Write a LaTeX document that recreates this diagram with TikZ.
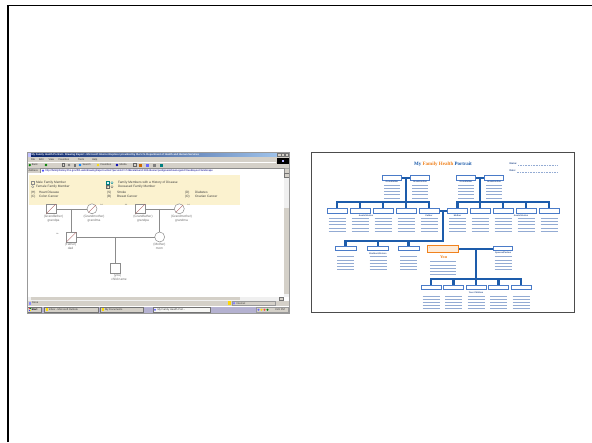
\documentclass[tikz,border=0pt]{standalone}
\usepackage{fontspec}
\setmainfont{Liberation Sans}
\newfontfamily\serifbold{Liberation Serif}
\usetikzlibrary{calc}
\definecolor{winblue}{HTML}{0A246A}
\definecolor{winlight}{HTML}{A6CAF0}
\definecolor{wingrey}{HTML}{D4D0C8}
\definecolor{legendy}{HTML}{FBF2CF}
\definecolor{treeblue}{HTML}{1D5CAB}
\definecolor{boxblue}{HTML}{4A7BC8}
\definecolor{lineblue}{HTML}{93ABD3}
\definecolor{labelblue}{HTML}{2B4F8E}
\definecolor{orng}{HTML}{F0821E}
\definecolor{youfill}{HTML}{FDEBD8}
\definecolor{pedgrey}{HTML}{8C8C8C}
\definecolor{pedtext}{HTML}{6E6E6E}
\newcommand\tinyf{\fontsize{2.6}{3}\selectfont}
\newcommand\smallf{\fontsize{3.2}{3.6}\selectfont}
\newcommand\formlines[4]{%
  \foreach \k in {1,...,#4}{\draw[formline] ({#1-#3/2},{#2+(\k-1)*3.1}) -- ++(#3,0);}}
\pgfdeclarelayer{bg}
\pgfsetlayers{bg,main}
\begin{document}
\begin{tikzpicture}[x=1pt,y=-1pt,
  every node/.style={inner sep=0pt, outer sep=0pt},
  tx/.style={font=\smallf, text=pedtext},
  lg/.style={font=\smallf, text=black!75, anchor=west},
  wt/.style={font=\tinyf, text=black!80, anchor=west},
  pedsq/.style={draw=pedgrey, line width=0.5pt, fill=white, minimum size=9.5pt},
  pedci/.style={draw=pedgrey, line width=0.5pt, fill=white, circle, minimum size=10pt},
  pedline/.style={draw=pedgrey, line width=0.5pt},
  slash/.style={draw=pedgrey!70!red, line width=0.4pt},
  fbox/.style={draw=boxblue, line width=0.55pt, fill=white, minimum width=20pt, minimum height=4.5pt},
  conn/.style={draw=treeblue, line width=2.2pt, line cap=rect},
  formline/.style={draw=lineblue, line width=0.7pt},
  tlabel/.style={font=\fontsize{2.2}{2.5}\selectfont\bfseries, text=labelblue},
  wbtn/.style={draw=black!55, fill=wingrey, line width=0.3pt},
]
\begin{pgfonlayer}{bg}
\fill[white] (0,0) rectangle (592,442);
\fill[white] (311.5,152.5) rectangle (574,312.5);
\end{pgfonlayer}
\useasboundingbox (0,0) rectangle (592,442);
% slide frame
\draw[line width=2.5pt] (8,442) -- (8,4.6);
\draw[line width=1.8pt] (6.8,5.5) -- (592,5.5);

% ================= left screenshot =================
\fill[white] (27,152.5) rectangle (289,313);
\shade[left color=winblue, right color=winlight] (27,152.5) rectangle (289,157.3);
\fill[white!75!blue] (28,153.3) rectangle (30.6,156.5);
\node[font=\tinyf\bfseries, text=white, anchor=west] (ttl) at (31.5,154.9)
  {My Family Health Portrait - Drawing Report - Microsoft Internet Explorer provided by the U.S. Department of Health and Human Services};
\foreach \x in {277.3,281.1,284.9} \draw[wbtn] (\x,153.2) rectangle ++(3.5,3.3);
\fill[wingrey] (27,157.3) rectangle (289,173.3);
\draw[white, line width=0.3pt] (27,162) -- (276,162);
\draw[black!35, line width=0.3pt] (27,167.8) -- (289,167.8);
\node[wt] at (31,159.7) {File};
\node[wt] at (39,159.7) {Edit};
\node[wt] at (48.5,159.7) {View};
\node[wt] at (58.5,159.7) {Favorites};
\node[wt] at (78,159.7) {Tools};
\node[wt] at (92,159.7) {Help};
\fill[black] (277,157.8) rectangle (288.5,163.6);
\fill[white!70!blue] (281.5,159.5) rectangle ++(2.5,2.4);
% toolbar
\fill[green!50!black] (29.8,165) circle (1.3);
\node[wt] at (31.8,165) {Back};
\fill[green!50!black] (46,165) circle (1.3);
\draw[black!60, line width=0.3pt] (62,163.3) rectangle ++(2.6,3.2);
\fill[gray] (69,165) circle (1.3);
\fill[black!55] (73.5,163.5) rectangle ++(2.8,3);
\fill[blue!50!cyan] (80,165) circle (1.3);
\node[wt] at (82.5,165) {Search};
\fill[yellow!80!orange] (98,165) circle (1.3);
\node[wt] at (100.5,165) {Favorites};
\fill[blue!70!black] (117,165) circle (1.3);
\node[wt] at (119.5,165) {Media};
\draw[black!60, line width=0.3pt] (133,163.5) rectangle ++(3,3);
\fill[orange!80!black] (139,163.5) rectangle ++(2.5,3);
\fill[blue!60] (146,163.5) rectangle ++(3,3);
\fill[black!50] (153,163.5) rectangle ++(3,3);
\fill[teal] (160,163.5) rectangle ++(3,3);
% address bar
\node[wt] at (28.5,170.5) {Address};
\fill[white] (40.5,168.5) rectangle (284.5,172.8);
\draw[black!45, line width=0.3pt] (40.5,168.5) rectangle (284.5,172.8);
\fill[blue!70] (43,170.6) circle (1.2);
\node[font=\tinyf, text=blue!55!black, anchor=west] (url) at (45.5,170.6)
  {http://familyhistory.hhs.gov/fhh-web/drawingReport.action?personId=1749\&relativeId=8324\&view=pedigree\&showLegend=true\&layout=landscape};
% content area
\fill[white] (27,173.3) rectangle (283.5,297);
\fill[black!6] (283.5,173.3) rectangle (289,297);
\fill[wingrey] (283.8,208) rectangle (288.7,294);
\draw[wbtn] (283.8,173.5) rectangle (288.7,177);
\fill[legendy] (28.5,174.5) rectangle (240,204.5);
% legend
\draw[pedgrey, line width=0.3pt] (31.5,181.5) rectangle ++(2.4,2.4);
\node[lg] at (36,182.7) {Male Family Member};
\draw[pedgrey, line width=0.3pt] (32.7,186.7) circle (1.2);
\node[lg] at (36,186.7) {Female Family Member};
\draw[teal, line width=0.3pt, fill=cyan!15] (106.5,181.5) rectangle ++(2.4,2.4);
\draw[teal, line width=0.3pt, fill=cyan!15] (112,182.7) circle (1.2);
\node[lg] at (118,182.7) {Family Members with a History of Disease};
\draw[black!60, line width=0.3pt] (106.5,185.5) rectangle ++(2.4,2.4);
\draw[black!60, line width=0.3pt] (106.5,187.9) -- ++(2.4,-2.4);
\draw[black!60, line width=0.3pt] (112,186.7) circle (1.2);
\node[lg] at (118,186.7) {Deceased Family Member};
\node[lg] at (31,192.7) {(H)}; \node[lg] at (39,192.7) {Heart Disease};
\node[lg] at (31,196.7) {(C)}; \node[lg] at (39,196.7) {Colon Cancer};
\node[lg] at (107,192.7) {(S)}; \node[lg] at (117,192.7) {Stroke};
\node[lg] at (107,196.7) {(B)}; \node[lg] at (117,196.7) {Breast Cancer};
\node[lg] at (185,192.7) {(D)}; \node[lg] at (195,192.7) {Diabetes};
\node[lg] at (185,196.7) {(O)}; \node[lg] at (195,196.7) {Ovarian Cancer};
% pedigree
\node[pedsq] (gf1) at (51,208.8) {};
\node[pedci] (gm1) at (92,208.8) {};
\node[pedsq] (gf2) at (140.3,208.8) {};
\node[pedci] (gm2) at (179.3,208.8) {};
\draw[slash] (gf1.south west) -- (gf1.north east);
\draw[slash] (gm1.south west) -- (gm1.north east);
\draw[slash] (gf2.south west) -- (gf2.north east);
\draw[slash] (gm2.south west) -- (gm2.north east);
\draw[pedline] (gf1) -- (gm1);
\draw[pedline] (gf2) -- (gm2);
\coordinate (m1) at ($(gf1.east)!0.5!(gm1.west)$);
\coordinate (m2) at ($(gf2.east)!0.5!(gm2.west)$);
\node[pedsq] (fa) at (m1 |- 0,237) {};
\node[pedci] (mo) at (m2 |- 0,237) {};
\draw[slash] (fa.south west) -- (fa.north east);
\draw[pedline] (m1) -- (fa.north);
\draw[pedline] (m2) -- (mo.north);
\draw[pedline] (fa) -- (mo);
\coordinate (m3) at ($(fa.east)!0.5!(mo.west)$);
\node[pedsq] (me) at (m3 |- 0,268) {};
\draw[pedline] (m3) -- (me.north);
\node[tx] at (101.5,205.5) {**};
\node[tx] at (126,205.5) {**};
\node[tx] at (188.5,205.5) {**};
\node[tx] at (57.5,234.5) {**};
\node[tx] at (53.5,216.5) {(Grandfather)}; \node[tx] at (53.5,220.3) {grandpa};
\node[tx] at (94,216.5) {(Grandmother)}; \node[tx] at (94,220.3) {grandma};
\node[tx] at (143,216.5) {(Grandfather)}; \node[tx] at (143,220.3) {grandpa};
\node[tx] at (181.5,216.5) {(Grandmother)}; \node[tx] at (181.5,220.3) {grandma};
\node[tx] at (70.5,244.5) {(Father)}; \node[tx] at (70.5,248.2) {dad};
\node[tx] at (159.5,244.5) {(Mother)}; \node[tx] at (159.5,248.2) {mom};
\node[tx] at (117.5,276) {(you)}; \node[tx] at (119,279.7) {child name};
% bottom bars
\fill[black!6] (27,297) rectangle (283.5,300.5);
\fill[wingrey] (30.5,297.3) rectangle (240,300.2);
\draw[wbtn] (279.5,297.2) rectangle (283.3,300.3);
\fill[wingrey] (27,300.5) rectangle (289,306);
\fill[blue!45] (28.5,301.6) rectangle ++(2.4,2.9);
\node[wt] at (32,303.1) {Done};
\fill[yellow!75!orange] (228.3,301.4) rectangle ++(2.6,3.1);
\draw[black!40, line width=0.3pt] (232,301.2) rectangle (275,305.3);
\fill[blue!50] (234,303.2) circle (1.3);
\node[wt] at (236.5,303.2) {Internet};
\fill[wingrey!85!blue] (27,306) rectangle (289,313);
\draw[white, line width=0.3pt] (27,306.2) -- (289,306.2);
\draw[wbtn] (27.5,306.8) rectangle (41,312.5);
\fill[red!80] (28.6,308.2) rectangle ++(1.2,1.2);
\fill[green!60!black] (29.9,308.2) rectangle ++(1.2,1.2);
\fill[blue!80] (28.6,309.5) rectangle ++(1.2,1.2);
\fill[yellow!90!orange] (29.9,309.5) rectangle ++(1.2,1.2);
\node[font=\tinyf\bfseries, anchor=west] at (31.6,309.7) {Start};
\draw[wbtn] (44,306.8) rectangle (98,312.5);
\fill[yellow!80!orange] (45.5,308.4) rectangle ++(2.6,2.6);
\node[wt] at (49,309.7) {Inbox - Microsoft Outlook};
\draw[wbtn] (100,306.8) rectangle (143,312.5);
\fill[yellow!80!orange] (101.5,308.4) rectangle ++(2.6,2.6);
\node[wt] at (105,309.7) {My Documents};
\draw[black!55, fill=white!80!wingrey, line width=0.3pt] (153,306.8) rectangle (210,312.5);
\fill[blue!60] (155,309.7) circle (1.2);
\node[wt] at (157.5,309.7) {My Family Health Port...};
\draw[black!40, fill=wingrey, line width=0.3pt] (256,306.8) rectangle (288.6,312.5);
\fill[blue!60] (258.5,309.7) circle (1.1);
\fill[yellow!80!orange] (261.5,309.7) circle (1.1);
\fill[red!70] (264.5,309.7) circle (1.1);
\fill[green!50!black] (267.5,309.7) circle (1.1);
\node[wt] at (275,309.7) {3:26 PM};
\draw[black!40, line width=0.3pt] (27,152.5) rectangle (289,313);

% ================= right screenshot =================
\node (title) at (443,164) {\serifbold\bfseries\fontsize{5}{6}\selectfont
  \textcolor{treeblue}{My }\textcolor{orng}{Family Health }\textcolor{treeblue}{Portrait}};
\node[font=\fontsize{2.5}{3}\selectfont\bfseries, text=labelblue, anchor=west] (nm) at (509.5,164) {Name:};
\node[font=\fontsize{2.5}{3}\selectfont\bfseries, text=labelblue, anchor=west] (dt) at (509.5,171) {Date:};
\coordinate (nmend) at (556.8,164.8);
\coordinate (dtend) at (556.8,171.8);
\draw[lineblue, line width=0.5pt, dash pattern=on 1pt off 0.6pt] ($(nm.east)+(1,0.8)$) -- (nmend);
\draw[lineblue, line width=0.5pt, dash pattern=on 1pt off 0.6pt] ($(dt.east)+(1,0.8)$) -- (dtend);
% grandparents
\node[fbox, minimum width=19pt] (gpa1) at (392,177.8) {};
\node[fbox, minimum width=19pt] (gma1) at (420,177.8) {};
\node[fbox, minimum width=19pt] (gpa2) at (466,177.8) {};
\node[fbox, minimum width=19pt] (gma2) at (494,177.8) {};
\node[tlabel] at (392,182) {Grandfather};
\node[tlabel] at (420,182) {Grandmother};
\node[tlabel] at (466,182) {Grandfather};
\node[tlabel] at (494,182) {Grandmother};
\foreach \x in {392,420,466,494}{\formlines{\x}{185.5}{16}{5}}
% parents row
\foreach \n/\x in {l1/337,l2/360,l3/383,l4/406,l5/429,r1/457.5,r2/480,r3/503,r4/526,r5/549}
  \node[fbox] (\n) at (\x,210.8) {};
\node[tlabel] at (366,215.3) {Aunts/Uncles};
\node[tlabel] at (429,215.3) {Father};
\node[tlabel] at (457.5,215.3) {Mother};
\node[tlabel] at (521,215.3) {Aunts/Uncles};
\foreach \x in {337,360,383,406,429,457.5,480,503,526,549}{\formlines{\x}{218.6}{17}{5}}
% you row
\node[fbox, minimum width=21pt] (s1) at (345.5,248.3) {};
\node[fbox, minimum width=21pt] (s2) at (378,248.3) {};
\node[fbox, minimum width=21pt] (s3) at (408.5,248.3) {};
\node[fbox, draw=orng, fill=youfill, minimum width=31pt, minimum height=7.3pt] (you) at (443.2,248.6) {};
\node[fbox, minimum width=19pt] (sp) at (503.2,248.3) {};
\node[font=\fontsize{1.8}{2}\selectfont\bfseries, text=orng, anchor=west] at (429,247.5) {?};
\node[tlabel] at (378,253.4) {Brothers/Sisters};
\node[tlabel] at (503.2,253.4) {Spouse/Partner};
\node[font=\serifbold\bfseries\fontsize{4.2}{5}\selectfont, text=orng] at (443.6,256.8) {You};
\foreach \x in {345.5,378,408.5,503.2}{\formlines{\x}{256.8}{17}{5}}
\formlines{443.2}{261.8}{26}{5}
% children
\foreach \n/\x in {c1/431,c2/453.5,c3/476,c4/498.5,c5/521}
  \node[fbox] (\n) at (\x,287.5) {};
\node[tlabel] at (476,292.4) {Your Children};
\foreach \x in {431,453.5,476,498.5,521}{\formlines{\x}{296}{17}{5}}
% connectors
\coordinate (barL) at (0,201.7);
\coordinate (barS) at (0,240.7);
\coordinate (barC) at (0,279.3);
\begin{pgfonlayer}{bg}
\draw[conn] (gpa1.east) -- (gma1.west);
\draw[conn] (gpa2.east) -- (gma2.west);
\coordinate (t1) at ($(gpa1.east)!0.5!(gma1.west)$);
\coordinate (t1b) at ($(gpa2.east)!0.5!(gma2.west)$);
\draw[conn] (t1) -- (t1 |- barL);
\draw[conn] (t1b) -- (t1b |- barL);
\draw[conn] (l1 |- barL) -- (l5 |- barL);
\draw[conn] (r1 |- barL) -- (r5 |- barL);
\foreach \n in {l1,l2,l3,l4,l5,r1,r2,r3,r4,r5} \draw[conn] (\n.north) -- (\n |- barL);
\draw[conn] (l5.east) -- (r1.west);
\coordinate (t2) at ($(l5.east)!0.5!(r1.west)$);
\draw[conn] (t2) -- (t2 |- barS);
\draw[conn] (s1 |- barS) -- (t2 |- barS);
\foreach \n in {s1,s2,s3} \draw[conn] (\n.north) -- (\n |- barS);
\draw[conn] (you.east) -- (you.east -| sp.west);
\coordinate (t3) at ($(you.east)!0.5!(you.east -| sp.west)$);
\draw[conn] (t3) -- (t3 |- barC);
\draw[conn] (c1 |- barC) -- (c5 |- barC);
\foreach \n in {c1,c2,c3,c4,c5} \draw[conn] (\n.north) -- (\n |- barC);
\end{pgfonlayer}
\draw[black!70, line width=0.9pt] (311.5,152.5) rectangle (574,312.5);
\end{tikzpicture}
\end{document}
